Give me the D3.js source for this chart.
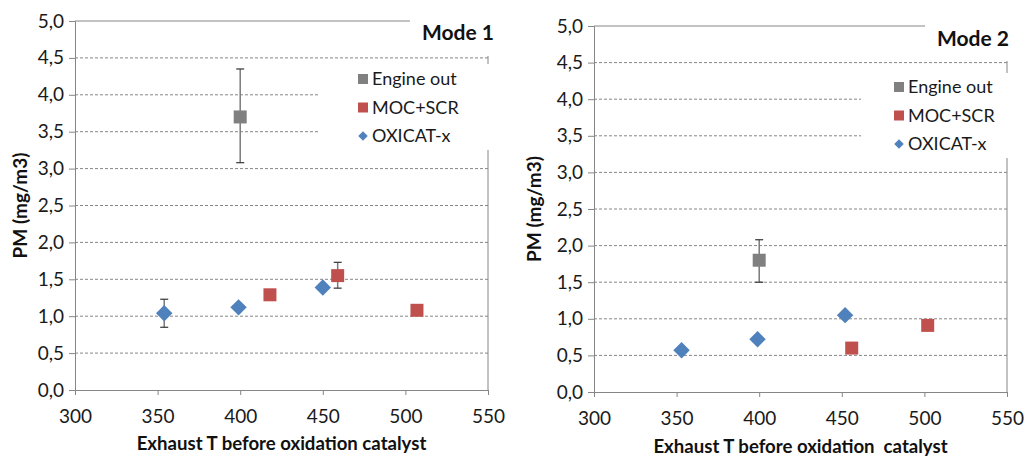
<!DOCTYPE html>
<html>
<head>
<meta charset="utf-8">
<script src="https://cdn.jsdelivr.net/npm/d3@7"></script>
<style>
  body { margin: 0; background: #fff; }
  svg { display: block; font-family: Lato, "Open Sans", sans-serif; }
</style>
</head>
<body>
<svg id="chart" width="1024" height="456"></svg>
<script>
// series names and colours
const seriesNames = ["Engine out", "MOC+SCR", "OXICAT-x"];
const seriesColors = ["#808080", "#c0504d", "#4f81bd"];
const seriesShapes = ["square", "square", "diamond"];

const xTicks = [300, 350, 400, 450, 500, 550];
const yTicks = [0, 0.5, 1, 1.5, 2, 2.5, 3, 3.5, 4, 4.5, 5];

// Mode 1 (exhaust T, PM, error low, error high)
const mode1Engine = [{x: 400, y: 3.70, lo: 3.08, hi: 4.35}];
const mode1Moc = [
    {x: 418, y: 1.29},
    {x: 459, y: 1.55, lo: 1.38, hi: 1.73},
    {x: 507, y: 1.08}
];
const mode1Oxicat = [
    {x: 354, y: 1.04, lo: 0.85, hi: 1.23},
    {x: 399, y: 1.12},
    {x: 450, y: 1.39}
];

// Mode 2
const mode2Engine = [{x: 400, y: 1.80, lo: 1.50, hi: 2.08}];
const mode2Moc = [
    {x: 456, y: 0.60},
    {x: 502, y: 0.91}
];
const mode2Oxicat = [
    {x: 353, y: 0.57},
    {x: 399, y: 0.72},
    {x: 452, y: 1.05}
];

const svg = d3.select("#chart");
const axisColor = "#868686";
const textColor = "#1a1a1a";
const fmt = d => d3.format(".1f")(d).replace(".", ",");

function drawChart(cfg, seriesData) {
    const x = d3.scaleLinear().domain([300, 550]).range([cfg.left, cfg.right]);
    const y = d3.scaleLinear().domain([0, 5]).range([cfg.bottom, cfg.top]);
    const g = svg.append("g");

    // gridlines
    g.selectAll(".grid")
        .data(yTicks.filter(d => d > 0 && d < 5))
        .join("line")
        .attr("x1", cfg.left).attr("x2", cfg.right)
        .attr("y1", d => y(d)).attr("y2", d => y(d))
        .attr("stroke", axisColor).attr("stroke-width", 1)
        .attr("stroke-dasharray", "3,2");

    // plot frame (top and right)
    g.append("line")
        .attr("x1", cfg.left).attr("x2", cfg.right)
        .attr("y1", y(5)).attr("y2", y(5))
        .attr("stroke", axisColor);
    g.append("line")
        .attr("x1", cfg.right).attr("x2", cfg.right)
        .attr("y1", y(5)).attr("y2", y(0))
        .attr("stroke", axisColor);

    // axes
    const xAxis = g.append("g")
        .attr("transform", `translate(0,${cfg.bottom})`)
        .call(d3.axisBottom(x).tickValues(xTicks).tickSize(5).tickPadding(15));
    const yAxis = g.append("g")
        .attr("transform", `translate(${cfg.left},0)`)
        .call(d3.axisLeft(y).tickValues(yTicks).tickFormat(fmt).tickSize(6).tickPadding(5));
    [xAxis, yAxis].forEach(a => {
        a.select(".domain").attr("stroke", axisColor);
        a.selectAll(".tick line").attr("stroke", axisColor);
        a.selectAll(".tick text")
            .attr("font-size", 19).attr("font-family", "Lato, sans-serif")
            .attr("fill", textColor);
    });
    xAxis.selectAll(".tick text").attr("dy", "0.71em");

    // white boxes of title and legend (they hide frame and gridlines)
    g.append("rect")
        .attr("x", cfg.titleBox[0]).attr("y", cfg.titleBox[1])
        .attr("width", cfg.titleBox[2]).attr("height", cfg.titleBox[3])
        .attr("fill", "#fff");
    g.append("rect")
        .attr("x", cfg.legendBox[0]).attr("y", cfg.legendBox[1])
        .attr("width", cfg.legendBox[2]).attr("height", cfg.legendBox[3])
        .attr("fill", "#fff");

    // error bars
    seriesData.forEach(s => {
        const eb = g.append("g");
        s.filter(d => d.lo !== undefined).forEach(d => {
            const cx = x(d.x);
            eb.append("line")
                .attr("x1", cx).attr("x2", cx)
                .attr("y1", y(d.lo)).attr("y2", y(d.hi))
                .attr("stroke", "#7a7a7a").attr("stroke-width", 1.5);
            [d.lo, d.hi].forEach(v => {
                eb.append("line")
                    .attr("x1", cx - 4).attr("x2", cx + 4)
                    .attr("y1", y(v)).attr("y2", y(v))
                    .attr("stroke", "#333").attr("stroke-width", 1.2);
            });
        });
    });

    // markers
    seriesData.forEach((s, i) => {
        const isDiamond = seriesShapes[i] === "diamond";
        const sym = d3.symbol().type(d3.symbolSquare).size(isDiamond ? 135 : 169);
        g.selectAll(".pt" + i)
            .data(s)
            .join("path")
            .attr("d", sym)
            .attr("transform", d => `translate(${x(d.x)},${y(d.y)})` + (isDiamond ? " rotate(45)" : ""))
            .attr("fill", seriesColors[i]);
    });

    // legend
    const leg = g.append("g")
        .attr("transform", `translate(${cfg.legendPos[0]},${cfg.legendPos[1]})`);
    seriesNames.forEach((name, i) => {
        const isDiamond = seriesShapes[i] === "diamond";
        const row = leg.append("g").attr("transform", `translate(0,${i * 28.5})`);
        row.append("path")
            .attr("d", d3.symbol().type(d3.symbolSquare).size(isDiamond ? 45 : 100))
            .attr("transform", isDiamond ? "rotate(45)" : null)
            .attr("fill", seriesColors[i]);
        row.append("text")
            .attr("x", 9).attr("dy", "0.36em")
            .attr("font-size", 18).attr("fill", textColor)
            .text(name);
    });

    // title
    g.append("text")
        .attr("x", cfg.titlePos[0]).attr("y", cfg.titlePos[1])
        .attr("text-anchor", "end")
        .attr("font-size", 21).attr("font-weight", "bold").attr("fill", "#111")
        .text(cfg.title);

    // axis titles
    g.append("text")
        .attr("transform", `translate(${cfg.yLabelX},${(cfg.top + cfg.bottom) / 2}) rotate(-90)`)
        .attr("text-anchor", "middle")
        .attr("font-size", 19).attr("font-weight", "bold").attr("fill", "#111")
        .text("PM (mg/m3)");
    g.append("text")
        .attr("x", (cfg.left + cfg.right) / 2).attr("y", cfg.xLabelY)
        .attr("text-anchor", "middle")
        .attr("font-size", 18.6).attr("font-weight", "bold").attr("fill", "#111")
        .attr("xml:space", "preserve")
        .text(cfg.xLabel);
}

drawChart({
    left: 75, right: 488, top: 21, bottom: 390,
    titleBox: [410, 14, 100, 42],
    legendBox: [319, 64, 190, 86],
    legendPos: [363, 79],
    titlePos: [494, 40],
    yLabelX: 27, xLabelY: 450,
    title: "Mode 1",
    xLabel: "Exhaust T before oxidation catalyst"
}, [mode1Engine, mode1Moc, mode1Oxicat]);

drawChart({
    left: 594, right: 1007, top: 26, bottom: 392,
    titleBox: [925, 18, 100, 43],
    legendBox: [861, 73, 170, 85],
    legendPos: [899, 87],
    titlePos: [1009, 46],
    yLabelX: 541, xLabelY: 453,
    title: "Mode 2",
    xLabel: "Exhaust T before oxidation  catalyst"
}, [mode2Engine, mode2Moc, mode2Oxicat]);
</script>
</body>
</html>
